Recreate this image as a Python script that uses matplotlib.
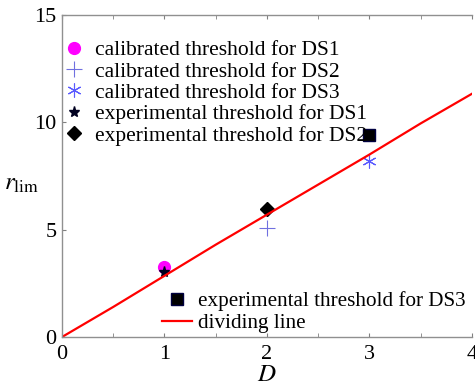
import matplotlib
matplotlib.use("Agg")
import matplotlib.pyplot as plt
import numpy as np

plt.rcParams['font.family'] = ['Liberation Serif', 'DejaVu Serif']
plt.rcParams['mathtext.fontset'] = 'stix'

# datos
d_line = [0, 0.5, 1, 1.5, 2, 2.5, 3, 3.5, 4]
r_line = [0, 1.4, 2.85, 4.3, 5.7, 7.1, 8.5, 9.95, 11.33]

cal_ds1 = (1, 3.25)
cal_ds2 = (2, 5.1)
cal_ds3 = (3, 8.2)
exp_ds1 = (1, 3.05)
exp_ds2 = (2, 5.95)
exp_ds3 = (3, 9.4)

fig = plt.figure(figsize=(4.75, 3.85), dpi=100)
ax = fig.add_axes([0.1305, 0.1247, 0.863, 0.8363])

h1, = ax.plot(*cal_ds1, 'o', color='#ff00ff', markersize=8.5, linestyle='none',
              label='calibrated threshold for DS1')
h2, = ax.plot(*cal_ds2, '+', color='#7070e0', markersize=11, markeredgewidth=0.8,
              linestyle='none', label='calibrated threshold for DS2')
h3, = ax.plot(*cal_ds3, color='#5a5aff', markersize=10, linestyle='none',
              marker=(6, 2, 0), markeredgewidth=0.8, label='calibrated threshold for DS3')
h4, = ax.plot(*exp_ds1, '*', color='#000020', markersize=8, linestyle='none',
              label='experimental threshold for DS1')
h5, = ax.plot(*exp_ds2, 'D', color='black', markersize=7.5, linestyle='none',
              label='experimental threshold for DS2')
h6, = ax.plot(*exp_ds3, 's', color='black', markeredgecolor='#000040', markersize=8,
              linestyle='none', label='experimental threshold for DS3')
h7, = ax.plot(d_line, r_line, color='red', linewidth=1.6, label='dividing line')

leg1 = ax.legend(handles=[h1, h2, h3, h4, h5], loc='upper left',
                 bbox_to_anchor=(-0.028, 0.962), frameon=False, fontsize=15.5,
                 handlelength=1.0, handletextpad=0.45, labelspacing=0.06,
                 borderaxespad=0.2)
ax.add_artist(leg1)
ax.legend(handles=[h6, h7], loc='lower right', bbox_to_anchor=(1.02, -0.035),
          frameon=False, fontsize=15.2, handlelength=1.42, handletextpad=0.25,
          labelspacing=0.12, borderaxespad=0.3)

ax.set_xlim(0, 4)
ax.set_ylim(0, 15)
ax.set_xticks([0, 1, 2, 3, 4])
ax.set_xticks(np.arange(0, 4.01, 0.5), minor=True)
ax.set_yticks([0, 5, 10, 15])
ax.tick_params(axis='both', which='both', direction='in', labelsize=16,
               color='#808080', top=True)
ax.tick_params(axis='x', which='both', length=3, pad=6)
ax.tick_params(axis='y', length=3, pad=4)

for s in ['left', 'bottom', 'top']:
    ax.spines[s].set_color('#909090')
    ax.spines[s].set_linewidth(1)
ax.spines['right'].set_visible(False)

ax.set_xlabel('$D$', fontsize=18)
ax.xaxis.set_label_coords(0.5, -0.085)
ax.set_ylabel(r'$r_{\mathrm{lim}}$', fontsize=18, rotation=0)
ax.yaxis.set_label_coords(-0.098, 0.44)

fig.savefig('out.png', dpi=100)
